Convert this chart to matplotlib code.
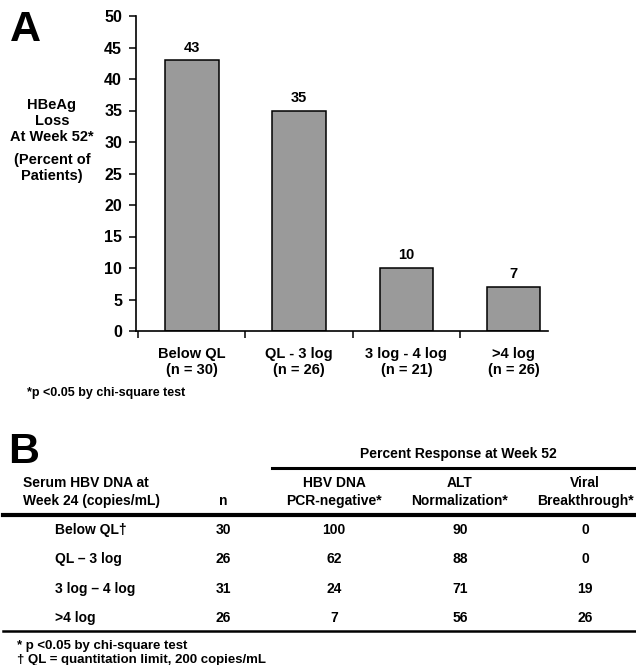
import matplotlib
matplotlib.use("Agg")
import matplotlib.pyplot as plt
from matplotlib.lines import Line2D

plt.rcParams['font.family'] = ['Liberation Sans', 'DejaVu Sans']
plt.rcParams['font.weight'] = 'bold'

# panel A data
groups = ["Below QL\n(n = 30)", "QL - 3 log\n(n = 26)", "3 log - 4 log\n(n = 21)", ">4 log\n(n = 26)"]
hbeag_loss = [43, 35, 10, 7]
yticks = [0, 5, 10, 15, 20, 25, 30, 35, 40, 45, 50]

# panel B data
row_labels = ["Below QL\u2020", "QL \u2013 3 log", "3 log \u2013 4 log", ">4 log"]
n_vals = [30, 26, 31, 26]
pcr_negative = [100, 62, 24, 7]
alt_normal = [90, 88, 71, 56]
viral_break = [0, 0, 19, 26]

W, H = 636, 665
fig = plt.figure(figsize=(W / 100, H / 100), dpi=100)


def fx(x):
    return x / W


def fy(y):
    return 1 - y / H


# ---------- panel A ----------
ax = fig.add_axes([fx(136), fy(331), fx(548) - fx(136), fy(16) - fy(331)])
xs = list(range(len(groups)))
bars = ax.bar(xs, hbeag_loss, width=0.5, color='#9a9a9a', edgecolor='black', linewidth=1.1)
for b, v in zip(bars, hbeag_loss):
    ax.annotate(str(v), (b.get_x() + b.get_width() / 2, v), xytext=(0, 4),
                textcoords='offset points', ha='center', va='bottom',
                fontsize=10.5, fontweight='bold')

ax.set_xlim(-0.52, 3.32)
ax.set_ylim(0, 50)
ax.set_yticks(yticks)
ax.set_yticklabels([str(t) for t in yticks], fontsize=11.5, fontweight='bold')
ax.set_xticks([-0.5, 0.5, 1.5, 2.5])
ax.set_xticklabels([])
ax.tick_params(axis='y', length=5, width=1.1, pad=5)
ax.tick_params(axis='x', length=5, width=1.1)
for s in ['top', 'right']:
    ax.spines[s].set_visible(False)
for s in ['left', 'bottom']:
    ax.spines[s].set_linewidth(1.2)

for x, lab in zip(xs, groups):
    ax.text(x, -2.6, lab, ha='center', va='top', fontsize=10.5,
            fontweight='bold', linespacing=1.15)

fig.text(fx(10), fy(41), "A", fontsize=31, fontweight='bold', ha='left', va='baseline')
fig.text(fx(52), fy(121), "HBeAg\nLoss\nAt Week 52*", ha='center', va='center',
         fontsize=10.5, fontweight='bold', linespacing=1.2)
fig.text(fx(52), fy(168), "(Percent of\nPatients)", ha='center', va='center',
         fontsize=10.5, fontweight='bold', linespacing=1.15)
fig.text(fx(27), fy(393), "*p <0.05 by chi-square test", ha='left', va='center',
         fontsize=9, fontweight='bold')

# ---------- panel B ----------
fig.text(fx(8), fy(463), "B", fontsize=31, fontweight='bold', ha='left', va='baseline')
fig.text(fx(458), fy(454), "Percent Response at Week 52", ha='center', va='center',
         fontsize=10, fontweight='bold')
fig.add_artist(Line2D([fx(272), fx(636)], [fy(468), fy(468)], color='black', linewidth=2.2))

fig.text(fx(23), fy(483), "Serum HBV DNA at", ha='left', va='center', fontsize=10, fontweight='bold')
fig.text(fx(23), fy(501), "Week 24 (copies/mL)", ha='left', va='center', fontsize=10, fontweight='bold')
fig.text(fx(223), fy(501), "n", ha='center', va='center', fontsize=10, fontweight='bold')
col_x = [334, 460, 585]
headers = [("HBV DNA", "PCR-negative*"), ("ALT", "Normalization*"), ("Viral", "Breakthrough*")]
for cx, (h1, h2) in zip(col_x, headers):
    fig.text(fx(cx), fy(483), h1, ha='center', va='center', fontsize=10, fontweight='bold')
    fig.text(fx(cx), fy(501), h2, ha='center', va='center', fontsize=10, fontweight='bold')

fig.add_artist(Line2D([fx(3), fx(636)], [fy(515), fy(515)], color='black', linewidth=3))

row_y = [530, 559, 589, 618]
for i, ry in enumerate(row_y):
    fig.text(fx(55), fy(ry), row_labels[i], ha='left', va='center', fontsize=10, fontweight='bold')
    fig.text(fx(223), fy(ry), str(n_vals[i]), ha='center', va='center', fontsize=10, fontweight='bold')
    for cx, col in zip(col_x, [pcr_negative, alt_normal, viral_break]):
        fig.text(fx(cx), fy(ry), str(col[i]), ha='center', va='center', fontsize=10, fontweight='bold')

fig.add_artist(Line2D([fx(3), fx(636)], [fy(631), fy(631)], color='black', linewidth=1.8))

fig.text(fx(17), fy(646), "* p <0.05 by chi-square test", ha='left', va='center',
         fontsize=9.5, fontweight='bold')
fig.text(fx(17), fy(660), "\u2020 QL = quantitation limit, 200 copies/mL", ha='left', va='center',
         fontsize=9.5, fontweight='bold')

fig.savefig("out.png", dpi=100, facecolor='white')
